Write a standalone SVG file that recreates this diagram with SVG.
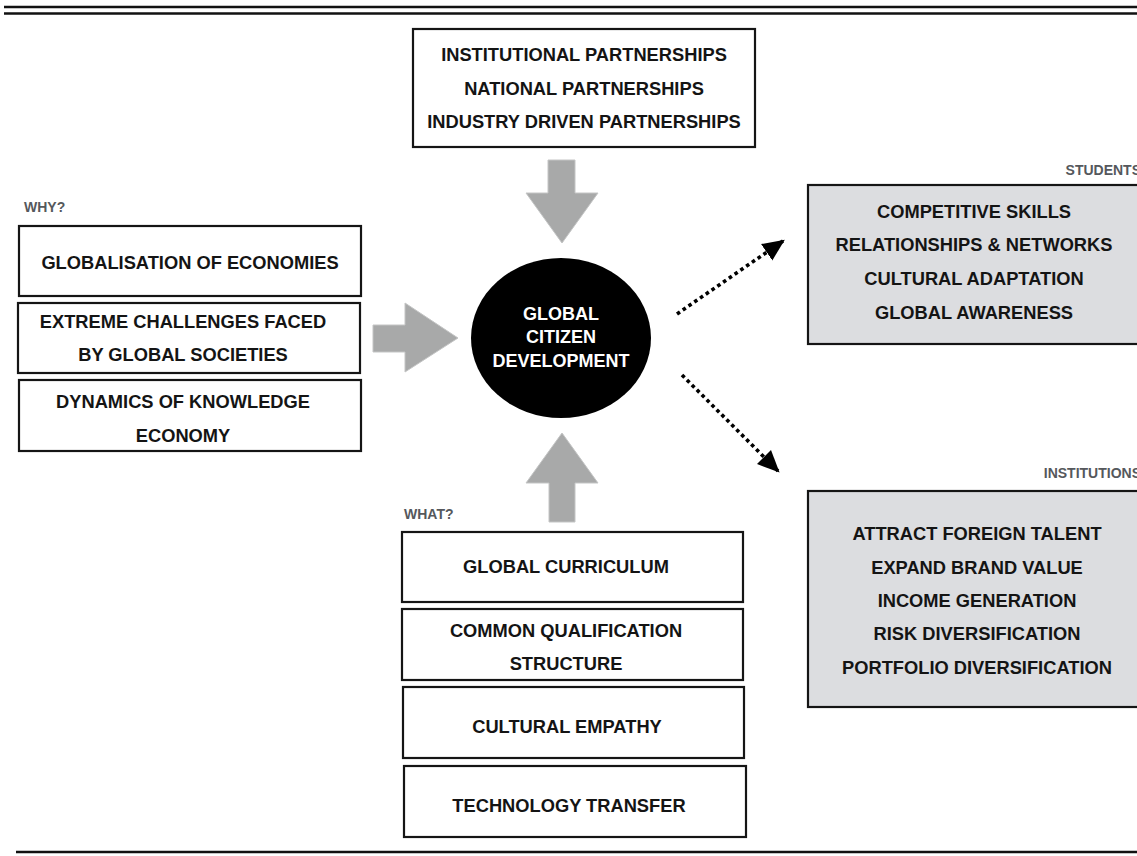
<svg xmlns="http://www.w3.org/2000/svg" width="1137" height="856" viewBox="0 0 1137 856">
  <style>
    .box { fill: #ffffff; stroke: #151515; stroke-width: 2.2; }
    .gbox { fill: #dcdde0; stroke: #151515; stroke-width: 2.2; }
    .t { font-family: "Liberation Sans", Arial, sans-serif; font-weight: bold; font-size: 18.3px; fill: #141414; text-anchor: middle; }
    .w { font-family: "Liberation Sans", Arial, sans-serif; font-weight: bold; font-size: 18px; fill: #ffffff; text-anchor: middle; }
    .lbl { font-family: "Liberation Sans", Arial, sans-serif; font-weight: bold; font-size: 14px; fill: #55585c; }
    .blk { fill: #a8a9a9; stroke: #c4c5c5; stroke-width: 1; }
    .dot { fill: none; stroke: #000; stroke-width: 3.6; stroke-dasharray: 3.6 3.4; }
    .rule { stroke: #111; stroke-width: 2.4; }
  </style>
  <defs>
    <marker id="head" viewBox="0 0 20 20" refX="18" refY="10" markerWidth="22" markerHeight="22" markerUnits="userSpaceOnUse" orient="auto">
      <path d="M0,1 L20,10 L0,19 Z" fill="#000"/>
    </marker>
  </defs>

  <!-- page rules -->
  <line class="rule" x1="4" y1="7" x2="1137" y2="7"/>
  <line class="rule" x1="4" y1="13.5" x2="1137" y2="13.5"/>
  <line class="rule" x1="16" y1="852" x2="1137" y2="852"/>

  <!-- connectors -->
  <g id="connectors">
    <path class="blk" d="M548,160 H575 V193 H598 L562,243 L526,193 H548 Z"/>
    <path class="blk" d="M373,325 H405 V303 L458,338 L405,372 V352 H373 Z"/>
    <path class="blk" d="M549,522 V483 H526 L562,433 L598,483 H575 V522 Z"/>
    <line class="dot" x1="677" y1="314" x2="783" y2="241" marker-end="url(#head)"/>
    <line class="dot" x1="682" y1="375" x2="778" y2="471" marker-end="url(#head)"/>
  </g>

  <!-- partnerships -->
  <g id="partnerships">
    <rect class="box" x="413" y="29" width="342" height="118"/>
    <text class="t" x="584" y="61">INSTITUTIONAL PARTNERSHIPS</text>
    <text class="t" x="584" y="95">NATIONAL PARTNERSHIPS</text>
    <text class="t" x="584" y="128">INDUSTRY DRIVEN PARTNERSHIPS</text>
  </g>

  <!-- centre -->
  <g id="global-citizen">
    <ellipse cx="561" cy="338" rx="90" ry="80" fill="#000"/>
    <text class="w" x="561" y="320">GLOBAL</text>
    <text class="w" x="561" y="343">CITIZEN</text>
    <text class="w" x="561" y="367">DEVELOPMENT</text>
  </g>

  <!-- why -->
  <text class="lbl" x="24" y="212">WHY?</text>
  <g id="why-globalisation">
    <rect class="box" x="19" y="226" width="342" height="70"/>
    <text class="t" x="190" y="268.5">GLOBALISATION OF ECONOMIES</text>
  </g>
  <g id="why-challenges">
    <rect class="box" x="18" y="303" width="342" height="70"/>
    <text class="t" x="183" y="327.5">EXTREME CHALLENGES FACED</text>
    <text class="t" x="183" y="360.5">BY GLOBAL SOCIETIES</text>
  </g>
  <g id="why-knowledge">
    <rect class="box" x="19" y="380" width="342" height="71"/>
    <text class="t" x="183" y="407.5">DYNAMICS OF KNOWLEDGE</text>
    <text class="t" x="183" y="441.5">ECONOMY</text>
  </g>

  <!-- what -->
  <text class="lbl" x="404" y="519">WHAT?</text>
  <g id="what-curriculum">
    <rect class="box" x="402" y="532" width="341" height="70"/>
    <text class="t" x="566" y="573">GLOBAL CURRICULUM</text>
  </g>
  <g id="what-qualification">
    <rect class="box" x="402" y="609" width="341" height="71"/>
    <text class="t" x="566" y="637">COMMON QUALIFICATION</text>
    <text class="t" x="566" y="670">STRUCTURE</text>
  </g>
  <g id="what-empathy">
    <rect class="box" x="403" y="687" width="341" height="71"/>
    <text class="t" x="567" y="733">CULTURAL EMPATHY</text>
  </g>
  <g id="what-technology">
    <rect class="box" x="404" y="766" width="342" height="71"/>
    <text class="t" x="569" y="812">TECHNOLOGY TRANSFER</text>
  </g>

  <!-- students -->
  <text class="lbl" x="1141" y="175" text-anchor="end">STUDENTS</text>
  <g id="students">
    <rect class="gbox" x="808" y="185" width="340" height="159"/>
    <text class="t" x="974" y="217.5">COMPETITIVE SKILLS</text>
    <text class="t" x="974" y="250.5">RELATIONSHIPS &amp; NETWORKS</text>
    <text class="t" x="974" y="284.5">CULTURAL ADAPTATION</text>
    <text class="t" x="974" y="318.5">GLOBAL AWARENESS</text>
  </g>

  <!-- institutions -->
  <text class="lbl" x="1141" y="478" text-anchor="end">INSTITUTIONS</text>
  <g id="institutions">
    <rect class="gbox" x="808" y="491" width="340" height="216"/>
    <text class="t" x="977" y="539.5">ATTRACT FOREIGN TALENT</text>
    <text class="t" x="977" y="573.5">EXPAND BRAND VALUE</text>
    <text class="t" x="977" y="606.5">INCOME GENERATION</text>
    <text class="t" x="977" y="639.5">RISK DIVERSIFICATION</text>
    <text class="t" x="977" y="673.5">PORTFOLIO DIVERSIFICATION</text>
  </g>
</svg>
